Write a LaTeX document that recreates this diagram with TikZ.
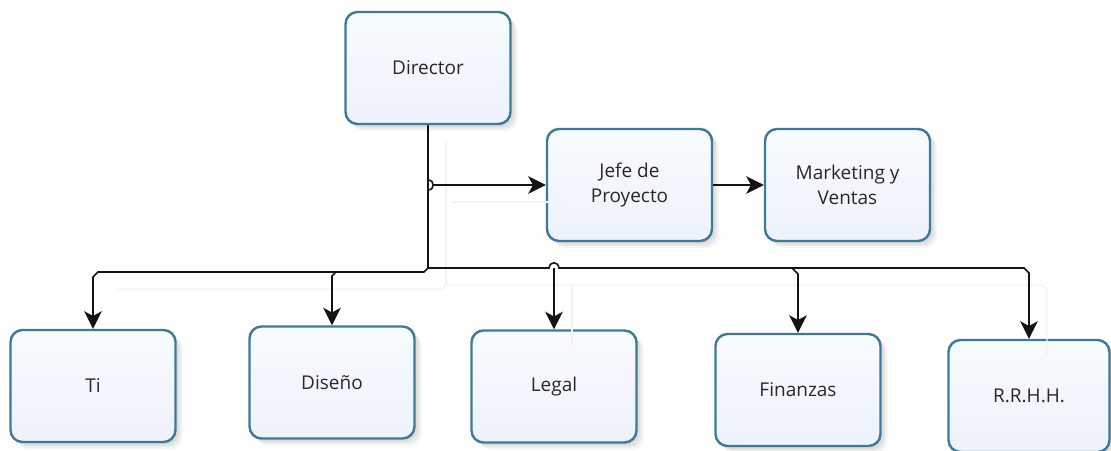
\documentclass[tikz,border=0pt]{standalone}
\usepackage{fontspec}
\setmainfont{Open Sans}
\usetikzlibrary{arrows.meta}
\definecolor{boxline}{RGB}{62,122,152}
\definecolor{boxtop}{RGB}{248,251,254}
\definecolor{boxbot}{RGB}{237,242,251}
\definecolor{txt}{RGB}{40,40,40}
\definecolor{ghost}{RGB}{242,242,242}

\tikzset{
  orgbox/.style={rectangle, rounded corners=12pt, draw=boxline, line width=2.4pt,
    top color=boxtop, bottom color=boxbot,
    minimum width=165pt, minimum height=112pt, align=center,
    font=\fontsize{19}{25}\selectfont, text=txt,
    preaction={fill=black, opacity=0.05, transform canvas={shift={(3pt,-3pt)}}},
    preaction={fill=black, opacity=0.05, transform canvas={shift={(5pt,-5pt)}}},
    preaction={fill=black, opacity=0.04, transform canvas={shift={(7pt,-7pt)}}}},
  link/.style={line width=1.6pt, draw=black!92},
  headed/.style={-{Stealth[length=11pt, width=11pt, inset=3pt, scale=1.6]}},
  ghostlink/.style={line width=1.2pt, draw=ghost}
}

\begin{document}
\begin{tikzpicture}[x=1pt,y=-1pt]
\useasboundingbox (0,0) rectangle (1111,450);

% boxes
\node[orgbox] (dir)   at (428,68)     {Director};
\node[orgbox] (jefe)  at (629.5,185)  {Jefe de\\Proyecto};
\node[orgbox] (mkt)   at (847.5,185)  {Marketing y\\Ventas};
\node[orgbox] (ti)    at (93,386)     {Ti};
\node[orgbox] (dis)   at (332,382.5)  {Diseño};
\node[orgbox] (legal) at (554,386.5)  {Legal};
\node[orgbox] (fin)   at (798,390)    {Finanzas};
\node[orgbox, minimum width=161pt] (rrhh) at (1029,396) {R.R.H.H.};

% junction points of the connectors
\coordinate (corner) at (428,268);
\coordinate (hopA)   at (428,180);
\coordinate (hopB)   at (428,190);
\coordinate (hopR)   at (434,185);
\coordinate (busL)   at (424,272);
\coordinate (tiK)    at (98,272);
\coordinate (tiD)    at (93,277);
\coordinate (disK)   at (336,272);
\coordinate (disD)   at (332,276);
\coordinate (legL)   at (549,268);
\coordinate (legR)   at (559,268);
\coordinate (legM)   at (554,268);
\coordinate (finK)   at (792,268);
\coordinate (finD)   at (798,274);
\coordinate (rrK)    at (1024,268);
\coordinate (rrD)    at (1029,273);

% faint connector shadows
\begin{scope}[transform canvas={shift={(18pt,-17pt)}}]
  \draw[ghostlink] (dir.south) -- (corner);
  \draw[ghostlink] (hopR) -- (hopR -| jefe.west);
  \draw[ghostlink] (corner) -- (rrK) -- (rrD) -- (rrhh.north);
  \draw[ghostlink] (corner) -- (busL) -- (tiK);
  \draw[ghostlink] (legM) -- (legal.north);
\end{scope}

% connectors
\draw[link] (dir.south) -- (corner);
\draw[link] (hopA) .. controls (435,180) and (435,190) .. (hopB);
\draw[link, headed] (hopR) -- (hopR -| jefe.west);
\draw[link, headed] (jefe.east) -- (mkt.west);
\draw[link, headed] (corner) -- (legL) .. controls (550,261) and (558,261) .. (legR)
   -- (rrK) -- (rrD) -- (rrhh.north);
\draw[link, headed] (corner) -- (busL) -- (tiK) -- (tiD) -- (ti.north);
\draw[link, headed] (disK) -- (disD) -- (dis.north);
\draw[link, headed] (legM) -- (legal.north);
\draw[link, headed] (finK) -- (finD) -- (fin.north);
\end{tikzpicture}
\end{document}
